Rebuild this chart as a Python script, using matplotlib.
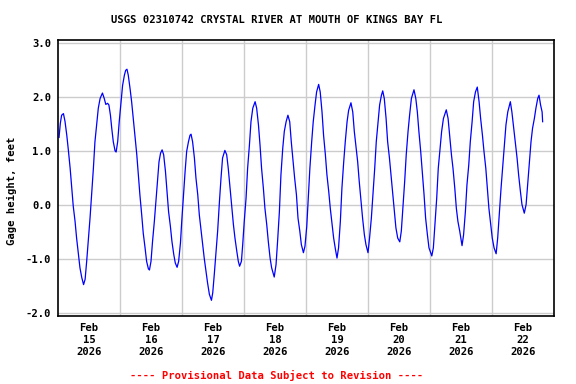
import pandas as pd
import matplotlib
matplotlib.use("Agg")
from matplotlib import pyplot as plt

# hours after 2026-02-15 00:00 and gage height (ft)
hours = [
    0.4, 0.9, 1.4, 2.1, 2.7, 3.4, 4.0, 4.7, 5.3, 5.9, 6.6, 7.2, 7.9, 8.5, 9.2, 9.9,
    10.5, 11.1, 11.7, 12.4, 13.0, 13.7, 14.3, 15.0, 15.6, 16.3, 17.2, 17.9, 18.5, 19.2,
    19.7, 20.3, 20.8, 21.4, 22.1, 22.5, 23.1, 23.7, 24.4, 25.0, 25.7, 26.2, 26.7, 27.2,
    27.9, 28.5, 29.2, 29.8, 30.5, 31.1, 31.7, 32.4, 33.0, 33.7, 34.3, 35.0, 35.4, 36.0,
    36.6, 37.3, 37.9, 38.5, 39.1, 39.7, 40.3, 40.9, 41.6, 42.2, 42.8, 43.5, 44.1, 44.8,
    45.4, 46.1, 46.7, 47.4, 47.9, 48.5, 49.2, 49.8, 50.5, 51.1, 51.5, 52.1, 52.8, 53.4,
    54.1, 54.7, 55.4, 56.0, 56.6, 57.3, 57.9, 58.6, 59.4, 59.9, 60.5, 61.2, 61.8, 62.5,
    63.1, 63.7, 64.6, 65.3, 65.9, 66.6, 67.2, 67.9, 68.5, 69.2, 69.8, 70.3, 71.0, 71.5,
    72.1, 72.8, 73.4, 74.1, 74.7, 75.4, 76.3, 76.9, 77.6, 78.2, 78.8, 79.5, 80.1, 80.8,
    81.4, 82.1, 82.7, 83.7, 84.4, 85.0, 85.7, 86.3, 87.0, 87.6, 88.3, 89.0, 89.7, 90.3,
    91.0, 91.6, 92.3, 92.9, 93.6, 94.2, 95.0, 95.6, 96.3, 96.9, 97.5, 98.2, 98.8, 99.5,
    100.1, 100.9, 101.5, 102.2, 102.8, 103.5, 104.1, 104.8, 105.4, 106.1, 106.7, 107.4,
    108.0, 108.6, 109.3, 109.9, 110.6, 111.2, 111.9, 112.5, 113.4, 114.1, 114.7, 115.4,
    116.0, 116.6, 117.3, 117.9, 118.6, 119.2, 120.0, 120.6, 121.3, 121.9, 122.6, 123.2,
    123.9, 124.5, 125.2, 125.7, 126.3, 127.0, 127.6, 128.3, 128.9, 129.5, 130.2, 130.8,
    131.5, 132.3, 132.9, 133.5, 134.2, 134.8, 135.5, 136.1, 136.8, 137.8, 138.5, 139.1,
    139.7, 140.4, 141.0, 141.7, 142.3, 143.0, 143.6, 144.7, 145.3, 145.9, 146.6, 147.2,
    147.9, 148.5, 149.2, 150.3, 151.0, 151.6, 152.3, 152.9, 153.6, 154.2, 154.8, 155.5,
    156.4, 157.0, 157.7, 158.3, 159.0, 159.6, 160.3, 160.9, 161.6, 162.3, 163.0, 163.6,
    164.3, 164.9, 165.6, 166.2, 166.8, 167.5, 168.1, 168.8, 169.6, 170.2, 170.8, 171.5,
    172.1, 172.8, 173.4, 174.1, 175.1, 175.7, 176.4, 177.0, 177.7, 178.3, 179.0, 179.6,
    180.5, 181.2, 181.8, 182.5, 183.1, 183.7, 184.4, 185.0, 185.7, 186.2, 186.8, 187.4,
    187.6,
]
gage_ft = [
    1.25, 1.51, 1.66, 1.69, 1.55, 1.29, 1.02, 0.68, 0.34, -0.02, -0.30, -0.61, -0.91, -1.16, -1.34, -1.47,
    -1.37, -1.04, -0.67, -0.24, 0.19, 0.68, 1.17, 1.51, 1.79, 1.97, 2.07, 1.97, 1.86, 1.88,
    1.85, 1.66, 1.42, 1.17, 1.00, 0.98, 1.17, 1.54, 1.91, 2.21, 2.40, 2.49, 2.51, 2.40,
    2.15, 1.91, 1.57, 1.29, 0.93, 0.56, 0.19, -0.18, -0.52, -0.79, -1.04, -1.18, -1.20, -1.04,
    -0.67, -0.30, 0.07, 0.44, 0.80, 0.96, 1.02, 0.93, 0.62, 0.25, -0.12, -0.39, -0.67, -0.91,
    -1.07, -1.15, -1.04, -0.70, -0.30, 0.13, 0.62, 0.99, 1.17, 1.29, 1.31, 1.17, 0.87, 0.50,
    0.19, -0.18, -0.48, -0.73, -0.98, -1.22, -1.44, -1.65, -1.76, -1.62, -1.28, -0.85, -0.48, 0.07,
    0.50, 0.87, 1.01, 0.93, 0.68, 0.31, 0.01, -0.36, -0.61, -0.85, -1.04, -1.13, -1.04, -0.73,
    -0.30, 0.13, 0.68, 1.11, 1.54, 1.79, 1.91, 1.79, 1.48, 1.11, 0.68, 0.31, -0.06, -0.36,
    -0.67, -0.98, -1.16, -1.33, -1.10, -0.67, -0.12, 0.56, 1.05, 1.36, 1.54, 1.66, 1.54, 1.17,
    0.80, 0.50, 0.19, -0.24, -0.48, -0.73, -0.88, -0.76, -0.39, 0.13, 0.68, 1.17, 1.54, 1.85,
    2.09, 2.23, 2.09, 1.72, 1.29, 0.93, 0.56, 0.25, -0.06, -0.36, -0.61, -0.82,
    -0.98, -0.79, -0.30, 0.31, 0.80, 1.17, 1.54, 1.75, 1.89, 1.72, 1.36, 1.05,
    0.80, 0.44, 0.07, -0.24, -0.55, -0.73, -0.88, -0.61, -0.24, 0.19, 0.68, 1.17,
    1.54, 1.85, 2.03, 2.11, 1.97, 1.60, 1.17, 0.87, 0.56, 0.25, -0.12, -0.42,
    -0.61, -0.68, -0.48, -0.06, 0.44, 0.93, 1.36, 1.66, 1.97, 2.13, 1.97, 1.72,
    1.36, 0.99, 0.62, 0.19, -0.24, -0.55, -0.79, -0.94, -0.79, -0.36, 0.13, 0.68,
    1.05, 1.36, 1.60, 1.76, 1.60, 1.29, 0.93, 0.68, 0.31, -0.06, -0.30, -0.48,
    -0.75, -0.55, -0.12, 0.37, 0.74, 1.17, 1.54, 1.91, 2.09, 2.18, 1.91, 1.60,
    1.29, 0.99, 0.68, 0.31, -0.06, -0.36, -0.61, -0.79, -0.90, -0.61, -0.18, 0.31,
    0.68, 1.11, 1.48, 1.72, 1.91, 1.72, 1.42, 1.17, 0.87, 0.56, 0.25, 0.01,
    -0.15, 0.01, 0.37, 0.80, 1.17, 1.42, 1.60, 1.79, 1.97, 2.03, 1.85, 1.72,
    1.54,
]
day_labels = ["Feb\n15\n2026", "Feb\n16\n2026", "Feb\n17\n2026", "Feb\n18\n2026",
              "Feb\n19\n2026", "Feb\n20\n2026", "Feb\n21\n2026", "Feb\n22\n2026"]
y_ticks = [-2.0, -1.0, 0.0, 1.0, 2.0, 3.0]

start = pd.Timestamp("2026-02-15")
times = start + pd.to_timedelta(hours, unit="h")
days = pd.date_range(start, periods=9, freq="D")

mono = "DejaVu Sans Mono"
fs = 7.6
fig = plt.figure(figsize=(5.76, 3.84), dpi=100)
ax = fig.add_axes([58 / 576, 1 - 316 / 384, 496 / 576, 276 / 384])
ax.plot(times, gage_ft, color="#0000ff", linewidth=0.9)

ax.set_xlim(days[0], days[-1])
ax.set_ylim(-2.05, 3.05)
ax.set_xticks(days[:-1] + pd.Timedelta(hours=12))
ax.set_xticklabels(day_labels)
ax.set_yticks(y_ticks)
ax.set_yticklabels([f"{v:.1f}" for v in y_ticks])
ax.grid(False)
for d in days[1:-1]:
    ax.axvline(d, color="#cccccc", linewidth=1, zorder=0)
for v in y_ticks:
    ax.axhline(v, color="#cccccc", linewidth=1, zorder=0)
ax.tick_params(length=0, pad=5)
for lab in ax.get_xticklabels() + ax.get_yticklabels():
    lab.set_family(mono)
    lab.set_weight("bold")
    lab.set_fontsize(fs)
for lab in ax.get_xticklabels():
    lab.set_linespacing(1.23)
for s in ax.spines.values():
    s.set_linewidth(1.2)

fig.text(12 / 576, 1 - 191 / 384, "Gage height, feet", rotation=90, ha="center", va="center",
         family=mono, weight="bold", fontsize=fs)
fig.text(277 / 576, 1 - 20 / 384, "USGS 02310742 CRYSTAL RIVER AT MOUTH OF KINGS BAY FL",
         ha="center", va="center", family=mono, weight="bold", fontsize=fs)
fig.text(277 / 576, 1 - 375 / 384, "---- Provisional Data Subject to Revision ----",
         ha="center", va="center", family=mono, weight="bold", fontsize=fs, color="red")

fig.savefig("out.png", dpi=100)
